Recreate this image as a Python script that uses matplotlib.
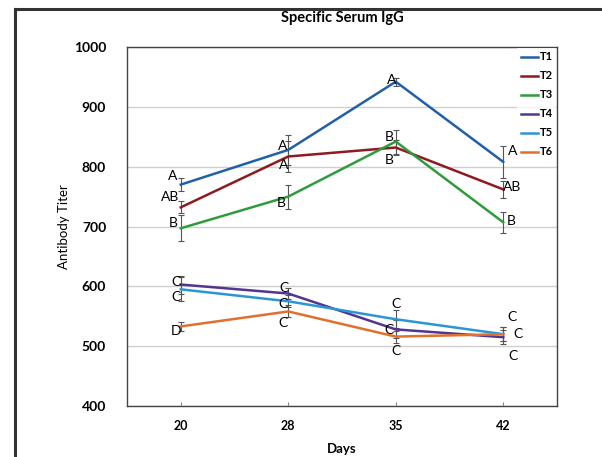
import numpy as np
import matplotlib
matplotlib.use('Agg')
import matplotlib.pyplot as plt
from matplotlib.lines import Line2D

days = ['20', '28', '35', '42']
groups = ['T1', 'T2', 'T3', 'T4', 'T5', 'T6']

t1 = [770, 828, 942, 808]
t2 = [732, 817, 832, 762]
t3 = [697, 750, 842, 707]
t4 = [603, 588, 528, 515]
t5 = [595, 575, 545, 520]
t6 = [533, 558, 516, 520]

t1_err = [11, 25, 7, 27]
t2_err = [10, 26, 13, 14]
t3_err = [22, 20, 20, 18]
t4_err = [15, 10, 15, 12]
t5_err = [20, 10, 15, 12]
t6_err = [8, 10, 10, 12]

t1_let = ['A', 'A', 'A', 'A']
t2_let = ['AB', 'A', 'B', 'AB']
t3_let = ['B', 'B', 'B', 'B']
t4_let = ['C', 'C', 'C', 'C']
t5_let = ['C', 'C', 'C', 'C']
t6_let = ['D', 'C', 'C', 'C']

values = [t1, t2, t3, t4, t5, t6]
errors = [t1_err, t2_err, t3_err, t4_err, t5_err, t6_err]
letters = [t1_let, t2_let, t3_let, t4_let, t5_let, t6_let]

colors = ['#2160a8', '#8e1b20', '#2f9c3c', '#52358f', '#2b96d4', '#e0702e']

# label offsets in pixels (dx, dy) per series per day
offsets = [
    [(-8, 9), (-6, 4), (-4, 2), (9, 11)],
    [(-11, 10), (-5, -9), (-6, -12), (9, 2)],
    [(-7, 5), (-7, -6), (-6, 5), (8, 1)],
    [(-5, 3), (-4, 6), (-7, -1), (15, 3)],
    [(-5, -8), (-5, -3), (0, 15), (9, 17)],
    [(-5, -5), (-5, -12), (0, -14), (10, -22)],
]

plt.rcParams['font.family'] = ['Lato', 'DejaVu Sans']

fig = plt.figure(figsize=(6.02, 4.57), dpi=100)
ax = fig.add_axes([127/602, 1-406/457, 430/602, 359/457])

x = np.arange(len(days))
for i in range(len(groups)):
    ax.errorbar(x, values[i], yerr=errors[i], color=colors[i], lw=1.8,
                ecolor='#555555', elinewidth=0.8, capsize=2.5, capthick=0.8,
                label=groups[i], zorder=3)
    for j in range(len(days)):
        ax.annotate(letters[i][j], (x[j], values[i][j]),
                    xytext=offsets[i][j], textcoords='offset pixels',
                    ha='center', va='center', fontsize=10, color='black',
                    zorder=7)

ax.set_xlim(-0.5, len(days)-0.5)
ax.set_ylim(400, 1000)
ax.set_yticks([400, 500, 600, 700, 800, 900, 1000])
ax.set_xticks(x)
ax.set_xticklabels(days)
ax.grid(axis='y', color='#d0d0d0', lw=1)
ax.set_axisbelow(True)
for s in ax.spines.values():
    s.set_color('#444444')
    s.set_linewidth(1)
ax.tick_params(axis='y', length=0, pad=15, labelsize=10)
ax.tick_params(axis='x', length=3, direction='in', pad=10, labelsize=9,
               color='#888888')
for lab in ax.get_xticklabels() + ax.get_yticklabels():
    lab.set_fontweight('bold')

ax.set_xlabel('Days', fontsize=9.5, fontweight='bold', labelpad=8)
ax.set_ylabel('Antibody Titer', fontsize=9.5)
ax.yaxis.set_label_coords(-(127-70)/430, 0.5)
fig.text(342/602, 1-18/457, 'Specific Serum IgG', ha='center', va='center',
         fontsize=10.5, fontweight='bold')

handles = [Line2D([0], [0], color=c, lw=1.8) for c in colors]
leg = ax.legend(handles, groups, loc='upper right', frameon=True,
                fontsize=8, handlelength=1.6, handletextpad=0.1,
                labelspacing=0.72, borderaxespad=0.1, borderpad=0.3,
                fancybox=False)
leg.set_zorder(5)
leg.get_frame().set_facecolor('white')
leg.get_frame().set_edgecolor('none')
for t in leg.get_texts():
    t.set_fontweight('bold')

# outer frame
fig.add_artist(Line2D([15/602, 15/602], [0, 1-9/457], color='#333333', lw=2.2))
fig.add_artist(Line2D([15/602, 1], [1-9/457, 1-9/457], color='#333333', lw=2.2))

fig.savefig('out.png', dpi=100)
